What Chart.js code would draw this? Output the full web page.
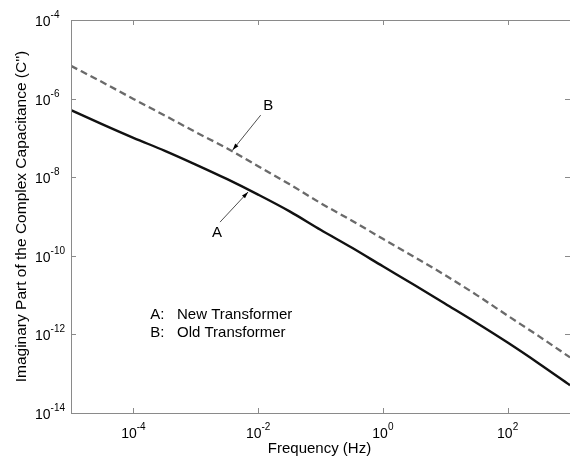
<!DOCTYPE html>
<html>
<head>
<meta charset="utf-8">
<script src="https://cdn.jsdelivr.net/npm/chart.js@4"></script>
<style>
	html, body { margin: 0; padding: 0; background: #fff; }
	canvas { display: block; }
</style>
</head>
<body>
<canvas id="cap_chart" width="570" height="456"></canvas>
<script>
// Frequency sweep in Hz, half-decade steps
const frequency = [1e-5, 3.2e-5, 1e-4, 3.2e-4, 1e-3, 3.2e-3, 1e-2, 3.2e-2, 1e-1, 3.2e-1, 1, 3.2, 10, 32, 100, 320, 1000];
// C'' for curve A (new transformer)
const newTransformer = [5.1e-7, 2.2e-7, 1.0e-7, 4.7e-8, 2.1e-8, 8.9e-9, 3.6e-9, 1.35e-9, 4.6e-10, 1.6e-10, 5.4e-11, 1.8e-11, 6.0e-12, 1.95e-12, 6.2e-13, 1.8e-13, 5.1e-14];
// C'' for curve B (old transformer)
const oldTransformer = [6.8e-6, 2.6e-6, 9.8e-7, 3.7e-7, 1.4e-7, 5.4e-8, 1.9e-8, 6.6e-9, 2.2e-9, 7.8e-10, 2.7e-10, 9.3e-11, 3.2e-11, 1.0e-11, 3.0e-12, 8.9e-13, 2.6e-13];

// labelled powers of ten on each axis
const xTickPowers = [-4, -2, 0, 2];
const yTickPowers = [-4, -6, -8, -10, -12, -14];

// "A" / "B" callouts, in data coords (label spot, arrow tail, arrow tip)
const callouts = [
	{ text: 'A', x: 2.2e-3, y: 3.8e-10, fromX: 2.45e-3, fromY: 7.2e-10, toX: 6.9e-3, toY: 4.2e-9 },
	{ text: 'B', x: 1.45e-2, y: 6.5e-7, fromX: 1.1e-2, fromY: 3.8e-7, toX: 3.9e-3, toY: 4.9e-8 }
];
const keyLines = [['A:', 'New Transformer'], ['B:', 'Old Transformer']];
const keyX = [1.86e-4, 5e-4],
	  keyY = [3.1e-12, 1.1e-12];

const FONT = '"Liberation Sans", Arial, sans-serif';
const AXIS_GREY = '#8a8a8a';

// MATLAB-ish frame: box, inward ticks, 10^n labels, titles, callouts
const framePlugin = {
	id: 'frame',
	afterDraw(chart) {
		const ctx = chart.ctx,
			  area = chart.chartArea,
			  xs = chart.scales.x,
			  ys = chart.scales.y;
		ctx.save();

		// box
		ctx.strokeStyle = AXIS_GREY;
		ctx.lineWidth = 1;
		ctx.strokeRect(Math.round(area.left) + 0.5, Math.round(area.top) + 0.5,
			area.right - area.left, area.bottom - area.top);

		// inward tick marks
		ctx.beginPath();
		xTickPowers.forEach((p) => {
			const px = Math.round(xs.getPixelForValue(Math.pow(10, p))) + 0.5;
			ctx.moveTo(px, area.bottom); ctx.lineTo(px, area.bottom - 5);
			ctx.moveTo(px, area.top); ctx.lineTo(px, area.top + 5);
		});
		yTickPowers.forEach((p) => {
			const py = Math.round(ys.getPixelForValue(Math.pow(10, p))) + 0.5;
			ctx.moveTo(area.left, py); ctx.lineTo(area.left + 5, py);
			ctx.moveTo(area.right, py); ctx.lineTo(area.right - 5, py);
		});
		ctx.stroke();

		// 10^n labels
		ctx.fillStyle = '#000';
		ctx.textBaseline = 'alphabetic';
		ctx.textAlign = 'left';
		const baseFont = `14px ${FONT}`,
			  supFont = `10px ${FONT}`;
		function powerWidth(p) {
			ctx.font = baseFont;
			const w1 = ctx.measureText('10').width;
			ctx.font = supFont;
			return [w1, ctx.measureText(String(p)).width];
		}
		function drawPower(p, x, baseline) {
			const [w1] = powerWidth(p);
			ctx.font = baseFont;
			ctx.fillText('10', x, baseline);
			ctx.font = supFont;
			ctx.fillText(String(p), x + w1, baseline - 8);
		}
		xTickPowers.forEach((p) => {
			const px = xs.getPixelForValue(Math.pow(10, p)),
				  [w1, w2] = powerWidth(p);
			drawPower(p, px - (w1 + w2) / 2, area.bottom + 25);
		});
		yTickPowers.forEach((p) => {
			const py = ys.getPixelForValue(Math.pow(10, p));
			drawPower(p, 35, py + 6);
		});

		// axis titles
		ctx.font = `15px ${FONT}`;
		ctx.textAlign = 'center';
		ctx.textBaseline = 'middle';
		ctx.fillText('Frequency (Hz)', (area.left + area.right) / 2 - 1, 449);
		ctx.save();
		ctx.translate(22, (area.top + area.bottom) / 2);
		ctx.rotate(-Math.PI / 2);
		ctx.font = `15.5px ${FONT}`;
		ctx.fillText("Imaginary Part of the Complex Capacitance (C'')", 0, 0);
		ctx.restore();

		// callout arrows + letters
		ctx.strokeStyle = '#222';
		ctx.fillStyle = '#000';
		ctx.lineWidth = 0.8;
		callouts.forEach((c) => {
			const x0 = xs.getPixelForValue(c.fromX), y0 = ys.getPixelForValue(c.fromY),
				  x1 = xs.getPixelForValue(c.toX), y1 = ys.getPixelForValue(c.toY),
				  ang = Math.atan2(y1 - y0, x1 - x0),
				  head = 7, spread = 0.3;
			ctx.beginPath();
			ctx.moveTo(x0, y0);
			ctx.lineTo(x1, y1);
			ctx.stroke();
			ctx.beginPath();
			ctx.moveTo(x1, y1);
			ctx.lineTo(x1 - head * Math.cos(ang - spread), y1 - head * Math.sin(ang - spread));
			ctx.lineTo(x1 - head * Math.cos(ang + spread), y1 - head * Math.sin(ang + spread));
			ctx.closePath();
			ctx.fill();
			ctx.font = `15px ${FONT}`;
			ctx.textAlign = 'center';
			ctx.fillText(c.text, xs.getPixelForValue(c.x), ys.getPixelForValue(c.y));
		});

		// key text
		ctx.textAlign = 'left';
		ctx.font = `15px ${FONT}`;
		keyLines.forEach((line, i) => {
			const py = ys.getPixelForValue(keyY[i]);
			ctx.fillText(line[0], xs.getPixelForValue(keyX[0]), py);
			ctx.fillText(line[1], xs.getPixelForValue(keyX[1]), py);
		});

		ctx.restore();
	}
};

new Chart(document.getElementById('cap_chart'), {
	type: 'line',
	data: {
		labels: frequency,
		datasets: [
			{ // A
				label: 'New Transformer',
				data: frequency.map((f, i) => ({ x: f, y: newTransformer[i] })),
				borderColor: '#111',
				borderWidth: 2.4,
				pointRadius: 0,
				cubicInterpolationMode: 'monotone'
			},
			{ // B
				label: 'Old Transformer',
				data: frequency.map((f, i) => ({ x: f, y: oldTransformer[i] })),
				borderColor: '#6a6a6a',
				borderWidth: 2.3,
				borderDash: [7, 4],
				pointRadius: 0,
				cubicInterpolationMode: 'monotone'
			}
		]
	},
	options: {
		responsive: false,
		animation: false,
		layout: { padding: { left: 71, top: 20, right: 0, bottom: 43 } },
		scales: {
			x: { type: 'logarithmic', min: 1e-5, max: 1e3, display: false },
			y: { type: 'logarithmic', min: 1e-14, max: 1e-4, display: false }
		},
		plugins: {
			legend: { display: false },
			tooltip: { enabled: false }
		}
	},
	plugins: [framePlugin]
});
</script>
</body>
</html>
